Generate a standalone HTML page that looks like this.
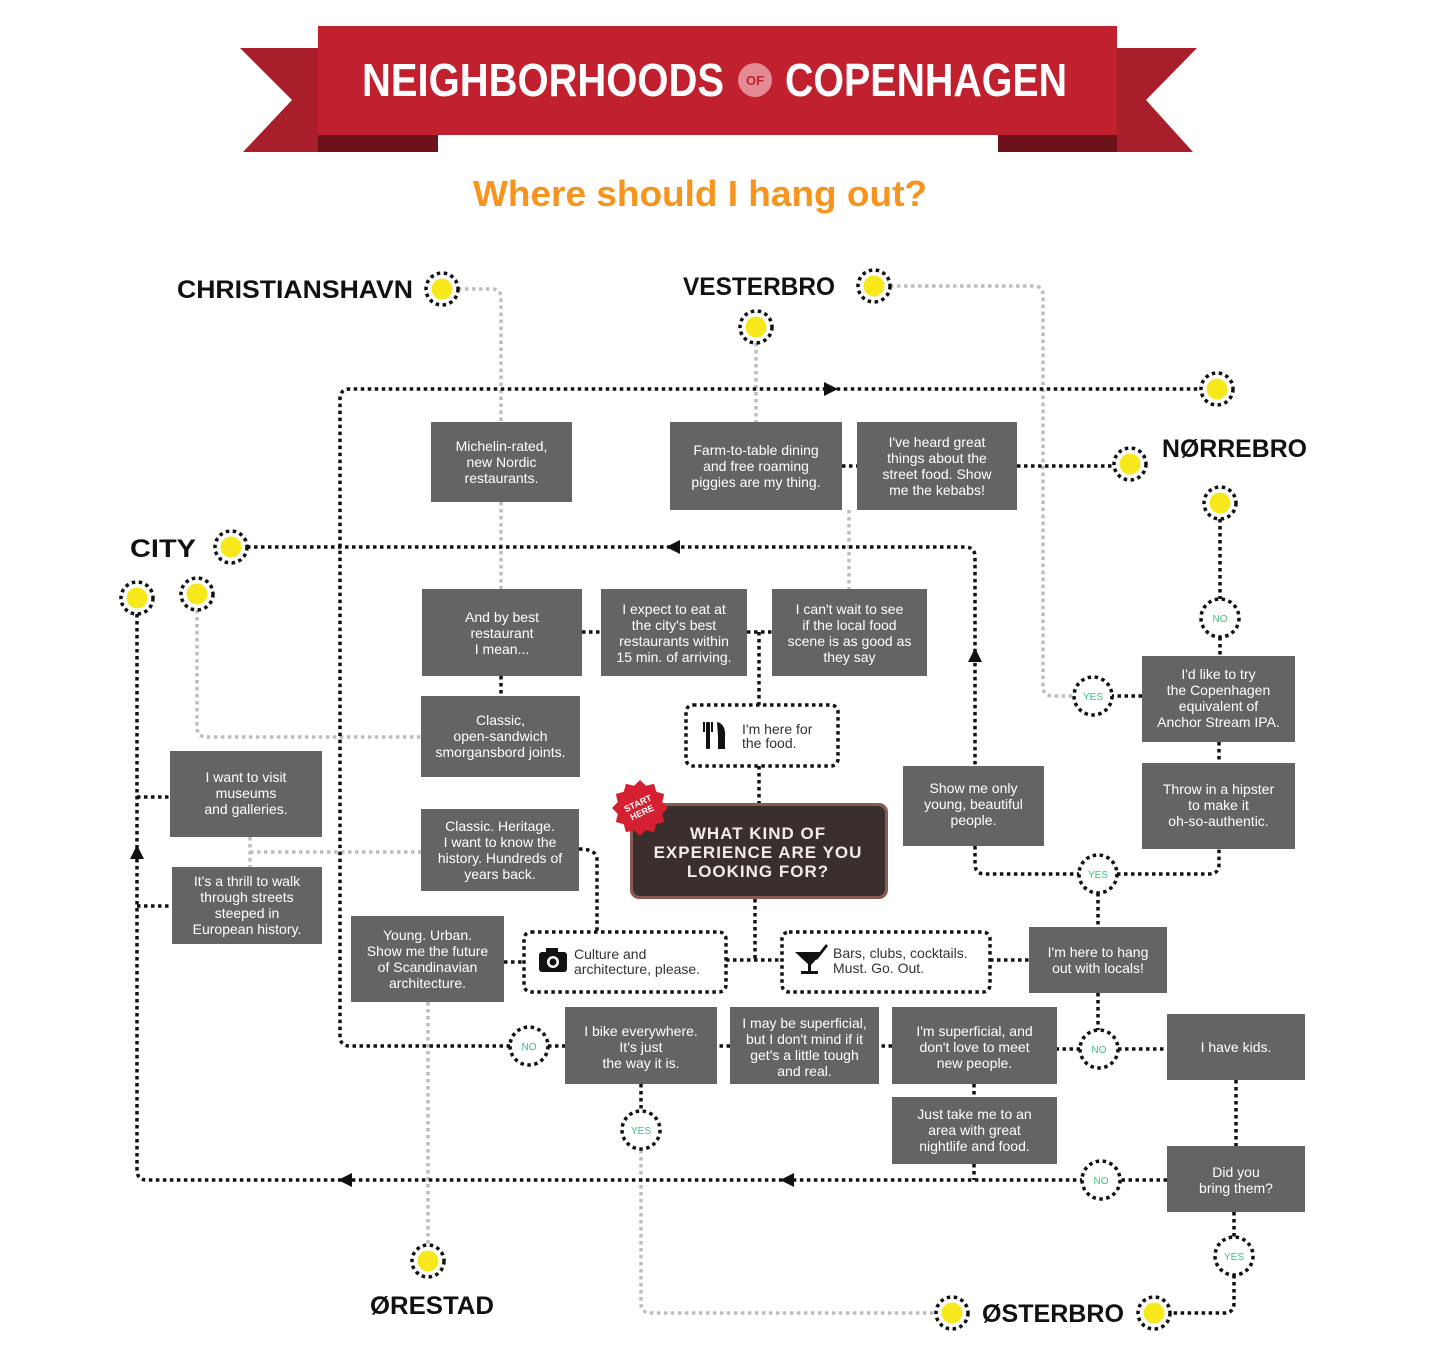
<!DOCTYPE html>
<html><head><meta charset="utf-8"><style>
html,body{margin:0;padding:0;background:#fff;}
svg{display:block;}
.k{stroke:#111;stroke-width:3.5;stroke-dasharray:3.5 3.5;fill:none}
.g{stroke:#bdbdbd;stroke-width:3.5;stroke-dasharray:3.5 3.5;fill:none}
.bx{fill:#646464}
.t{font-family:"Liberation Sans",sans-serif;font-size:14px;fill:#fff;text-anchor:middle}
.hd{font-family:"Liberation Sans",sans-serif;font-weight:bold;font-size:25px;fill:#111}
.yn{font-family:"Liberation Sans",sans-serif;font-size:10px;fill:#3dbf80;text-anchor:middle}
.dt{font-family:"Liberation Sans",sans-serif;font-size:14px;fill:#333}
</style></head><body>
<svg width="1442" height="1360" viewBox="0 0 1442 1360" xmlns="http://www.w3.org/2000/svg">
<defs>
<g id="mk"><circle r="16" fill="#fff" stroke="#111" stroke-width="3.5" stroke-dasharray="3.5 3.5"/><circle r="10.5" fill="#f7e81b"/></g>
<g id="yc"><circle r="19" fill="#fff" stroke="#111" stroke-width="3.5" stroke-dasharray="3.5 3.5"/></g>
</defs>

<!-- Banner -->
<polygon points="240,48 318,48 318,152 243,152 292,100" fill="#a81e2b"/>
<polygon points="1197,48 1117,48 1117,152 1193,152 1146,100" fill="#a81e2b"/>
<polygon points="318,135 438,135 438,152 318,152" fill="#6d121b"/>
<polygon points="998,135 1117,135 1117,152 998,152" fill="#6d121b"/>
<rect x="318" y="26" width="799" height="109" fill="#c1202f"/>
<text x="362" y="96" font-family="Liberation Sans Narrow, Liberation Sans, sans-serif" font-weight="bold" font-size="46" fill="#fff" textLength="362" lengthAdjust="spacingAndGlyphs">NEIGHBORHOODS</text>
<circle cx="755" cy="80" r="17" fill="#e38a93"/>
<text x="755" y="85" font-family="Liberation Sans, sans-serif" font-weight="bold" font-size="13" fill="#c1202f" text-anchor="middle">OF</text>
<text x="785" y="96" font-family="Liberation Sans Narrow, Liberation Sans, sans-serif" font-weight="bold" font-size="46" fill="#fff" textLength="282" lengthAdjust="spacingAndGlyphs">COPENHAGEN</text>
<text x="473" y="206" font-family="Liberation Sans, sans-serif" font-weight="bold" font-size="36" fill="#f7941d" textLength="454" lengthAdjust="spacingAndGlyphs">Where should I hang out?</text>

<!-- gray connectors -->
<path class="g" d="M458,289 H492 Q501,289 501,298 V422 M501,502 V589"/>
<path class="g" d="M756,343 V422"/>
<path class="g" d="M890,286 H1034 Q1043,286 1043,296 V686 Q1043,696 1053,696 H1074"/>
<path class="g" d="M849,510 V589"/>
<path class="g" d="M197,610 V727 Q197,737 207,737 H421"/>
<path class="g" d="M250,837 V867 M250,852 H421"/>
<path class="g" d="M428,1002 V1245"/>
<path class="g" d="M641,1150 V1303 Q641,1313 651,1313 H936"/>

<!-- black connectors -->
<path class="k" d="M510,1046 H350 Q340,1046 340,1036 V399 Q340,389 350,389 H1200"/>
<path class="k" d="M137,614 V1170 Q137,1180 147,1180 H1082"/>
<path class="k" d="M137,797 H170 M137,906 H172"/>
<path class="k" d="M247,547 H965 Q975,547 975,557 V766"/>
<path class="k" d="M1017,466 H1114 M842,466 H857"/>
<path class="k" d="M1220,519 V599 M1220,637 V656 M1142,696 H1112 M1219,742 V763"/>
<path class="k" d="M501,676 V696 M582,632 H601 M747,632 H772 M759,632 V705 M759,766 V803"/>
<path class="k" d="M579,849 Q597,849 597,860 V932"/>
<path class="k" d="M755,899 V960 M726,960 H782 M504,962 H524 M990,960 H1029"/>
<path class="k" d="M975,846 V864 Q975,874 985,874 H1079 M1117,874 H1209 Q1219,874 1219,864 V849 M1098,893 V927"/>
<path class="k" d="M1098,993 V1030 M1080,1049 H1057 M1118,1049 H1167 M892,1046 H879 M730,1046 H717 M548,1046 H565"/>
<path class="k" d="M641,1084 V1111 M974,1084 V1097 M974,1164 V1180 M1236,1080 V1146 M1167,1180 H1120"/>
<path class="k" d="M1234,1212 V1237 M1234,1275 V1303 Q1234,1313 1224,1313 H1170"/>

<!-- arrows -->
<polygon points="824,382 838,389 824,396" fill="#111"/>
<polygon points="680,540 666,547 680,554" fill="#111"/>
<polygon points="968,662 975,648 982,662" fill="#111"/>
<polygon points="130,859 137,845 144,859" fill="#111"/>
<polygon points="352,1173 338,1180 352,1187" fill="#111"/>
<polygon points="794,1173 780,1180 794,1187" fill="#111"/>

<!-- markers -->
<use href="#mk" x="442" y="289"/>
<use href="#mk" x="874" y="286"/>
<use href="#mk" x="756" y="327"/>
<use href="#mk" x="1217" y="389"/>
<use href="#mk" x="1130" y="464"/>
<use href="#mk" x="1220" y="503"/>
<use href="#mk" x="231" y="547"/>
<use href="#mk" x="137" y="598"/>
<use href="#mk" x="197" y="594"/>
<use href="#mk" x="428" y="1261"/>
<use href="#mk" x="952" y="1313"/>
<use href="#mk" x="1154" y="1313"/>

<!-- yes/no -->
<use href="#yc" x="1220" y="618"/><text class="yn" x="1220" y="622">NO</text>
<use href="#yc" x="1093" y="696"/><text class="yn" x="1093" y="700">YES</text>
<use href="#yc" x="1098" y="874"/><text class="yn" x="1098" y="878">YES</text>
<use href="#yc" x="529" y="1046"/><text class="yn" x="529" y="1050">NO</text>
<use href="#yc" x="641" y="1130"/><text class="yn" x="641" y="1134">YES</text>
<use href="#yc" x="1099" y="1049"/><text class="yn" x="1099" y="1053">NO</text>
<use href="#yc" x="1101" y="1180"/><text class="yn" x="1101" y="1184">NO</text>
<use href="#yc" x="1234" y="1256"/><text class="yn" x="1234" y="1260">YES</text>

<!-- headings -->
<text class="hd" x="177" y="298" textLength="236" lengthAdjust="spacingAndGlyphs">CHRISTIANSHAVN</text>
<text class="hd" x="683" y="295" textLength="152" lengthAdjust="spacingAndGlyphs">VESTERBRO</text>
<text class="hd" x="1162" y="457" textLength="145" lengthAdjust="spacingAndGlyphs">NØRREBRO</text>
<text class="hd" x="130" y="557" textLength="66" lengthAdjust="spacingAndGlyphs">CITY</text>
<text class="hd" x="370" y="1314" textLength="124" lengthAdjust="spacingAndGlyphs">ØRESTAD</text>
<text class="hd" x="982" y="1322" textLength="142" lengthAdjust="spacingAndGlyphs">ØSTERBRO</text>

<!-- boxes -->
<rect class="bx" x="431" y="422" width="141" height="80"/>
<text class="t" x="501.5" y="451"><tspan x="501.5">Michelin-rated,</tspan><tspan x="501.5" dy="16">new Nordic</tspan><tspan x="501.5" dy="16">restaurants.</tspan></text>
<rect class="bx" x="670" y="422" width="172" height="88"/>
<text class="t" x="756" y="455"><tspan x="756">Farm-to-table dining</tspan><tspan x="756" dy="16">and free roaming</tspan><tspan x="756" dy="16">piggies are my thing.</tspan></text>
<rect class="bx" x="857" y="422" width="160" height="88"/>
<text class="t" x="937" y="447"><tspan x="937">I've heard great</tspan><tspan x="937" dy="16">things about the</tspan><tspan x="937" dy="16">street food. Show</tspan><tspan x="937" dy="16">me the kebabs!</tspan></text>
<rect class="bx" x="422" y="589" width="160" height="87"/>
<text class="t" x="502" y="622"><tspan x="502">And by best</tspan><tspan x="502" dy="16">restaurant</tspan><tspan x="502" dy="16">I mean...</tspan></text>
<rect class="bx" x="601" y="589" width="146" height="87"/>
<text class="t" x="674" y="614"><tspan x="674">I expect to eat at</tspan><tspan x="674" dy="16">the city's best</tspan><tspan x="674" dy="16">restaurants within</tspan><tspan x="674" dy="16">15 min. of arriving.</tspan></text>
<rect class="bx" x="772" y="589" width="155" height="87"/>
<text class="t" x="849.5" y="614"><tspan x="849.5">I can't wait to see</tspan><tspan x="849.5" dy="16">if the local food</tspan><tspan x="849.5" dy="16">scene is as good as</tspan><tspan x="849.5" dy="16">they say</tspan></text>
<rect class="bx" x="421" y="696" width="159" height="81"/>
<text class="t" x="500.5" y="725"><tspan x="500.5">Classic,</tspan><tspan x="500.5" dy="16">open-sandwich</tspan><tspan x="500.5" dy="16">smorgansbord joints.</tspan></text>
<rect class="bx" x="170" y="751" width="152" height="86"/>
<text class="t" x="246" y="782"><tspan x="246">I want to visit</tspan><tspan x="246" dy="16">museums</tspan><tspan x="246" dy="16">and galleries.</tspan></text>
<rect class="bx" x="421" y="809" width="158" height="82"/>
<text class="t" x="500" y="831"><tspan x="500">Classic. Heritage.</tspan><tspan x="500" dy="16">I want to know the</tspan><tspan x="500" dy="16">history. Hundreds of</tspan><tspan x="500" dy="16">years back.</tspan></text>
<rect class="bx" x="172" y="867" width="150" height="77"/>
<text class="t" x="247" y="886"><tspan x="247">It's a thrill to walk</tspan><tspan x="247" dy="16">through streets</tspan><tspan x="247" dy="16">steeped in</tspan><tspan x="247" dy="16">European history.</tspan></text>
<rect class="bx" x="351" y="916" width="153" height="86"/>
<text class="t" x="427.5" y="940"><tspan x="427.5">Young. Urban.</tspan><tspan x="427.5" dy="16">Show me the future</tspan><tspan x="427.5" dy="16">of Scandinavian</tspan><tspan x="427.5" dy="16">architecture.</tspan></text>
<rect class="bx" x="903" y="766" width="141" height="80"/>
<text class="t" x="973.5" y="793"><tspan x="973.5">Show me only</tspan><tspan x="973.5" dy="16">young, beautiful</tspan><tspan x="973.5" dy="16">people.</tspan></text>
<rect class="bx" x="1142" y="656" width="153" height="86"/>
<text class="t" x="1218.5" y="679"><tspan x="1218.5">I'd like to try</tspan><tspan x="1218.5" dy="16">the Copenhagen</tspan><tspan x="1218.5" dy="16">equivalent of</tspan><tspan x="1218.5" dy="16">Anchor Stream IPA.</tspan></text>
<rect class="bx" x="1142" y="763" width="153" height="86"/>
<text class="t" x="1218.5" y="794"><tspan x="1218.5">Throw in a hipster</tspan><tspan x="1218.5" dy="16">to make it</tspan><tspan x="1218.5" dy="16">oh-so-authentic.</tspan></text>
<rect class="bx" x="1029" y="927" width="138" height="66"/>
<text class="t" x="1098" y="957"><tspan x="1098">I'm here to hang</tspan><tspan x="1098" dy="16">out with locals!</tspan></text>
<rect class="bx" x="565" y="1007" width="152" height="77"/>
<text class="t" x="641" y="1036"><tspan x="641">I bike everywhere.</tspan><tspan x="641" dy="16">It's just</tspan><tspan x="641" dy="16">the way it is.</tspan></text>
<rect class="bx" x="730" y="1007" width="149" height="77"/>
<text class="t" x="804.5" y="1028"><tspan x="804.5">I may be superficial,</tspan><tspan x="804.5" dy="16">but I don't mind if it</tspan><tspan x="804.5" dy="16">get's a little tough</tspan><tspan x="804.5" dy="16">and real.</tspan></text>
<rect class="bx" x="892" y="1007" width="165" height="77"/>
<text class="t" x="974.5" y="1036"><tspan x="974.5">I'm superficial, and</tspan><tspan x="974.5" dy="16">don't love to meet</tspan><tspan x="974.5" dy="16">new people.</tspan></text>
<rect class="bx" x="892" y="1097" width="165" height="67"/>
<text class="t" x="974.5" y="1119"><tspan x="974.5">Just take me to an</tspan><tspan x="974.5" dy="16">area with great</tspan><tspan x="974.5" dy="16">nightlife and food.</tspan></text>
<rect class="bx" x="1167" y="1014" width="138" height="66"/>
<text class="t" x="1236" y="1052">I have kids.</text>
<rect class="bx" x="1167" y="1146" width="138" height="66"/>
<text class="t" x="1236" y="1177"><tspan x="1236">Did you</tspan><tspan x="1236" dy="16">bring them?</tspan></text>

<!-- dotted option boxes -->
<rect x="686" y="705" width="152" height="61" rx="7" fill="#fff" stroke="#111" stroke-width="3.5" stroke-dasharray="3.5 3.5"/>
<g fill="#111"><rect x="706" y="722" width="4" height="27" rx="1"/><rect x="703" y="722" width="2" height="10"/><rect x="711" y="722" width="2" height="10"/><path d="M717,722 Q726,724 725,737 L725,749 L718,749 L718,736 Z"/></g>
<text class="dt" x="742" y="734"><tspan x="742">I'm here for</tspan><tspan x="742" dy="14">the food.</tspan></text>
<rect x="524" y="932" width="202" height="60" rx="7" fill="#fff" stroke="#111" stroke-width="3.5" stroke-dasharray="3.5 3.5"/>
<rect x="539" y="952" width="28" height="20" rx="3" fill="#111"/><rect x="546" y="948" width="12" height="6" fill="#111"/><circle cx="553" cy="962" r="6" fill="#fff"/><circle cx="553" cy="962" r="3.5" fill="#111"/>
<text class="dt" x="574" y="959"><tspan x="574">Culture and</tspan><tspan x="574" dy="15">architecture, please.</tspan></text>
<rect x="782" y="932" width="208" height="60" rx="7" fill="#fff" stroke="#111" stroke-width="3.5" stroke-dasharray="3.5 3.5"/>
<g fill="#111"><path d="M795,952 H823 L811,965 L809,965 Z"/><rect x="808" y="964" width="3" height="8"/><rect x="801" y="971" width="17" height="3"/><path d="M815,958 L826,944 L828,946 L817,960 Z"/></g>
<text class="dt" x="833" y="958"><tspan x="833">Bars, clubs, cocktails.</tspan><tspan x="833" dy="15">Must. Go. Out.</tspan></text>

<!-- main question -->
<rect x="630" y="803" width="258" height="96" rx="9" fill="#8a5a54"/>
<rect x="633" y="806" width="252" height="90" rx="7" fill="#3a2f2c"/>
<g font-family="Liberation Sans, sans-serif" font-weight="bold" font-size="17" fill="#f2ece8" text-anchor="middle" letter-spacing="1">
<text x="758" y="839">WHAT KIND OF</text>
<text x="758" y="858">EXPERIENCE ARE YOU</text>
<text x="758" y="877">LOOKING FOR?</text>
</g>
<polygon points="668,808 662.2,814 664.2,822 656.3,824.3 654,832.2 646,830.2 640,836 634,830.2 626,832.2 623.7,824.3 615.8,822 617.8,814 612,808 617.8,802 615.8,794 623.7,791.7 626,783.8 634,785.8 640,780 646,785.8 654,783.8 656.3,791.7 664.2,794 662.2,802" fill="#d42030"/>
<g transform="rotate(-25 640 808)" font-family="Liberation Sans, sans-serif" font-weight="bold" font-size="9" fill="#fff" text-anchor="middle">
<text x="640" y="806">START</text><text x="640" y="816">HERE</text>
</g>
</svg>
</body></html>
